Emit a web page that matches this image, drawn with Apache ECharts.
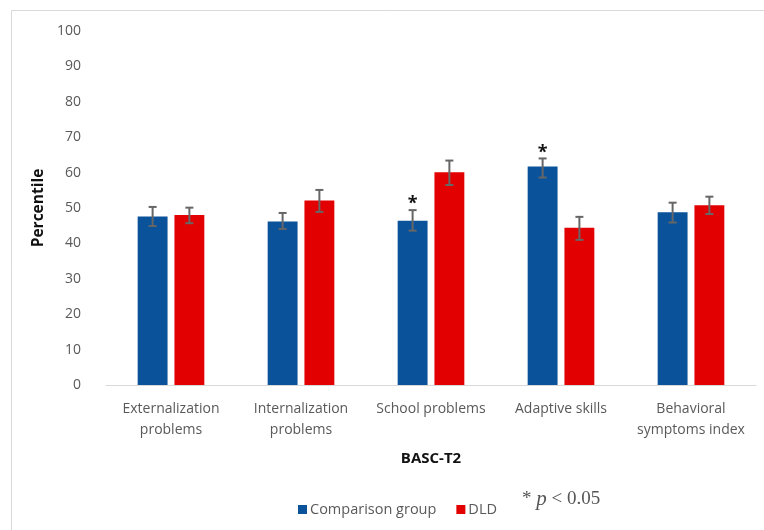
<!DOCTYPE html>
<html>
<head>
<meta charset="utf-8">
<script src="https://cdn.jsdelivr.net/npm/echarts@6/dist/echarts.min.js"></script>
<style>
  html, body { margin: 0; padding: 0; background: #fff; }
  #chart { width: 764px; height: 530px; }
</style>
</head>
<body>
<div id="chart"></div>
<script>
const categories = ['Externalization\nproblems', 'Internalization\nproblems', 'School problems', 'Adaptive skills', 'Behavioral\nsymptoms index'];
const yTicks = [0, 10, 20, 30, 40, 50, 60, 70, 80, 90, 100];

const comparison = [47.6, 46.2, 46.4, 61.7, 48.8];
const comparisonLow = [44.9, 44.1, 43.6, 58.6, 45.9];
const comparisonHigh = [50.3, 48.6, 49.4, 64.0, 51.5];
const comparisonSig = [false, false, true, true, false];

const dld = [48.0, 52.1, 60.1, 44.4, 50.8];
const dldLow = [45.7, 48.9, 56.5, 41.0, 48.3];
const dldHigh = [50.1, 55.1, 63.4, 47.5, 53.2];

const BAR_W = 0.23;   // share of the band
const BAR_GAP = 0.23; // share of a bar width

const chart = echarts.init(document.getElementById('chart'));

// error bars drawn over the grouped bars; side -1 = first series, +1 = second
function errorSeries(name, low, high, sig, side) {
  return {
    type: 'custom',
    name: name + ' err',
    z: 5,
    silent: true,
    data: categories.map((c, i) => [i, low[i], high[i], sig[i] ? 1 : 0]),
    renderItem(params, api) {
      const band = api.size([1, 0])[0];
      const bw = band * BAR_W;
      const off = side * (bw + bw * BAR_GAP) / 2;
      const lo = api.coord([api.value(0), api.value(1)]);
      const hi = api.coord([api.value(0), api.value(2)]);
      const x = lo[0] + off;
      const cap = 4;
      const style = { stroke: '#666666', lineWidth: 2 };
      const children = [
        { type: 'line', shape: { x1: x, y1: lo[1], x2: x, y2: hi[1] }, style },
        { type: 'line', shape: { x1: x - cap, y1: lo[1], x2: x + cap, y2: lo[1] }, style },
        { type: 'line', shape: { x1: x - cap, y1: hi[1], x2: x + cap, y2: hi[1] }, style }
      ];
      if (api.value(3)) {
        children.push({
          type: 'text',
          style: { text: '*', x: x, y: hi[1] + 3, textAlign: 'center', textVerticalAlign: 'bottom',
                   fill: '#111', font: 'bold 18px "Open Sans"' }
        });
      }
      return { type: 'group', children };
    }
  };
}

chart.setOption({
  animation: false,
  backgroundColor: '#fff',
  grid: { left: 106, right: 8, top: 31, bottom: 145 },
  legend: {
    data: ['Comparison group', 'DLD'],
    left: 293,
    top: 497,
    itemWidth: 9,
    itemHeight: 9,
    itemGap: 20,
    icon: 'rect',
    textStyle: { color: '#595959', fontSize: 14.5, fontFamily: 'Open Sans', padding: [0, 0, 0, -2] }
  },
  xAxis: {
    type: 'category',
    data: categories,
    name: 'BASC-T2',
    nameLocation: 'middle',
    nameGap: 66,
    nameTextStyle: { color: '#111', fontSize: 15, fontWeight: 'bold', fontFamily: 'Open Sans' },
    axisLine: { lineStyle: { color: '#d9d9d9', width: 1 } },
    axisTick: { show: false },
    axisLabel: { color: '#595959', fontSize: 14, fontFamily: 'Open Sans', lineHeight: 21, margin: 14, interval: 0 }
  },
  yAxis: {
    type: 'value',
    min: yTicks[0],
    max: yTicks[yTicks.length - 1],
    interval: 10,
    name: 'Percentile',
    nameLocation: 'middle',
    nameGap: 58,
    nameTextStyle: { color: '#111', fontSize: 15.5, fontWeight: 'bold', fontFamily: 'Open Sans' },
    axisLine: { show: false },
    axisTick: { show: false },
    splitLine: { show: false },
    axisLabel: { color: '#595959', fontSize: 14, fontFamily: 'Open Sans', margin: 25 }
  },
  series: [
    {
      name: 'Comparison group',
      type: 'bar',
      data: comparison,
      barWidth: (BAR_W * 100) + '%',
      barGap: (BAR_GAP * 100) + '%',
      itemStyle: { color: '#0a5299' }
    },
    {
      name: 'DLD',
      type: 'bar',
      data: dld,
      barWidth: (BAR_W * 100) + '%',
      itemStyle: { color: '#e30000' }
    },
    errorSeries('Comparison group', comparisonLow, comparisonHigh, comparisonSig, -1),
    errorSeries('DLD', dldLow, dldHigh, [false, false, false, false, false], 1)
  ],
  graphic: [
    {
      type: 'rect',
      silent: true,
      shape: { x: 11.5, y: 10.5, width: 800, height: 600 },
      style: { fill: 'none', stroke: '#d9d9d9', lineWidth: 1 }
    },
    {
      type: 'text',
      left: 522,
      top: 489,
      style: {
        text: '{a|* }{p|p}{a| < 0.05}',
        rich: {
          a: { fontFamily: 'Liberation Serif', fontSize: 19, fill: '#555' },
          p: { fontFamily: 'Liberation Serif', fontStyle: 'italic', fontSize: 21, fill: '#555' }
        }
      }
    }
  ]
});
</script>
</body>
</html>
